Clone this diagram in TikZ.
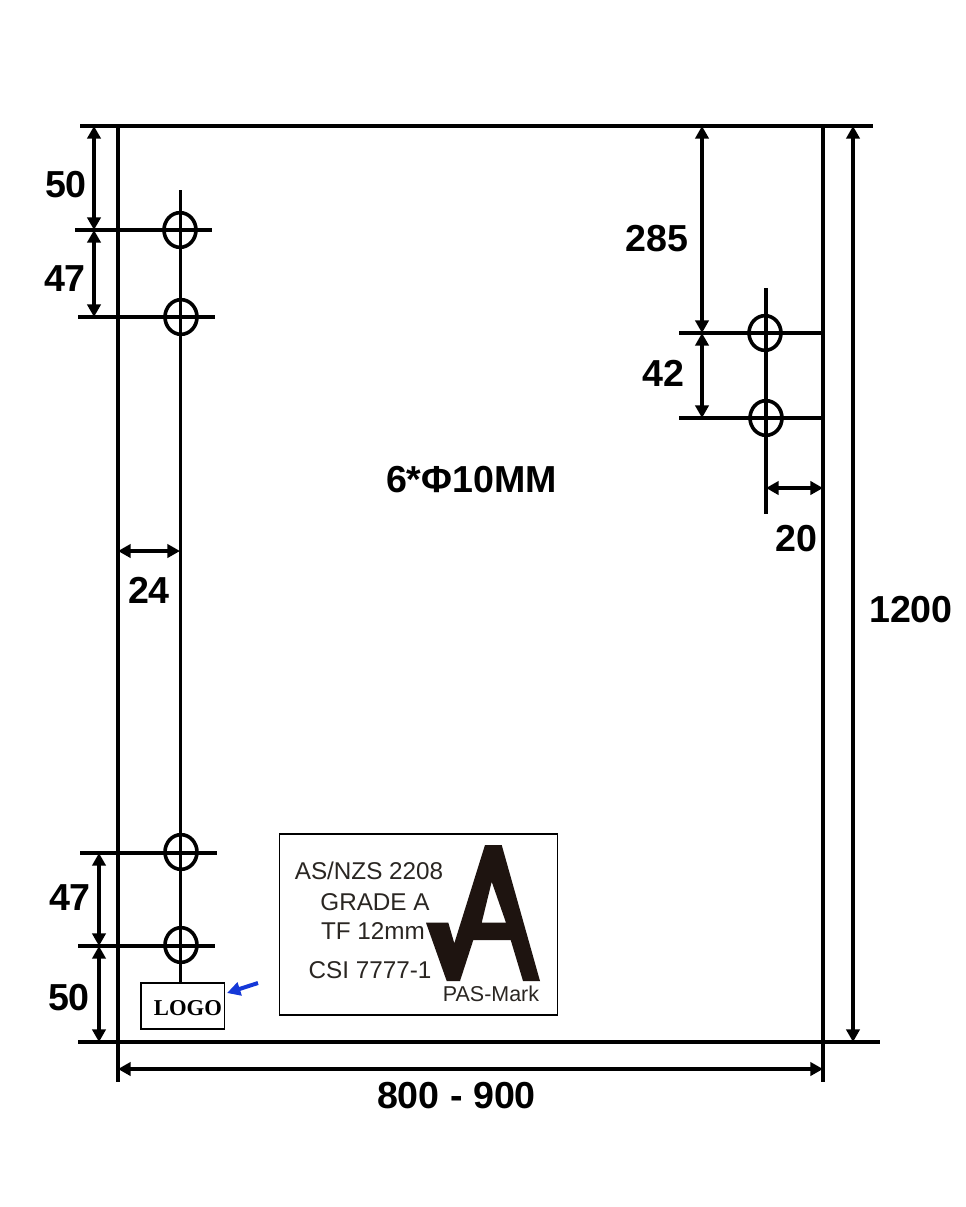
\documentclass[tikz,border=0pt]{standalone}
\usepackage{fontspec}
\setmainfont{Liberation Sans}
\newfontfamily\logofont{Liberation Serif}
\usetikzlibrary{arrows.meta,shapes.geometric}
\definecolor{lbl}{HTML}{2A2622}
\definecolor{markc}{HTML}{1E1410}
\definecolor{bluearrow}{HTML}{1438D8}
\tikzset{
  frameline/.style={draw=black,line width=2.5pt},
  extline/.style={draw=black,line width=2.3pt},
  dimline/.style={draw=black,line width=2.3pt,{Triangle[length=9.5pt,width=10pt]}-{Triangle[length=9.5pt,width=10pt]}},
  hole/.style={ellipse,draw=black,line width=2.7pt,minimum width=24pt,minimum height=26pt,inner sep=0pt,outer sep=0pt},
  dimtext/.style={font=\fontsize{28.2}{30}\selectfont\bfseries,inner sep=0pt,outer sep=0pt},
  marktext/.style={font=\fontsize{18.2}{20}\selectfont,text=lbl,inner sep=0pt,outer sep=0pt},
}
\begin{document}
\begin{tikzpicture}[x=0.75pt,y=-0.75pt]
\useasboundingbox[fill=white] (0,0) rectangle (966,1207);
% frame
\coordinate (tl) at (80,126); \coordinate (tr) at (873,126);
\coordinate (bl) at (78,1042); \coordinate (br) at (880,1042);
\coordinate (lt) at (118,126); \coordinate (lb) at (118,1082);
\coordinate (rt) at (823,126); \coordinate (rb) at (823,1082);
\draw[frameline] (tl) -- (tr);
\draw[frameline] (bl) -- (br);
\draw[frameline] (lt) -- (lb);
\draw[frameline] (rt) -- (rb);
% holes
\node[hole] (h1) at (180,230) {};
\node[hole] (h2) at (181,317) {};
\node[hole] (h3) at (181,852) {};
\node[hole] (h4) at (181,945) {};
\node[hole] (h5) at (765,333) {};
\node[hole] (h6) at (766,418) {};
% logo box
\node[draw=black,line width=1pt,minimum width=62.5pt,minimum height=34.5pt,inner sep=0pt,outer sep=0pt] (logo) at (182.7,1006) {};
\node[font=\logofont\fontsize{17}{18}\selectfont\bfseries,inner sep=0pt] (logotext) at (188,1008) {LOGO};
% centre lines
\coordinate (cl1) at (180.5,190);
\coordinate (cl2) at (180.5,983);
\coordinate (cr1) at (766,288);
\coordinate (cr2) at (766,514);
\draw[extline] (cl1) -- (cl2);
\draw[extline] (cr1) -- (cr2);
% extension lines
\coordinate (e1a) at (75,230); \coordinate (e1b) at (212,230);
\coordinate (e2a) at (78,317); \coordinate (e2b) at (215,317);
\coordinate (e3a) at (80,853); \coordinate (e3b) at (217,853);
\coordinate (e4a) at (78,946); \coordinate (e4b) at (215,946);
\coordinate (e5a) at (679,333); \coordinate (e5b) at (823,333);
\coordinate (e6a) at (679,418); \coordinate (e6b) at (823,418);
\draw[extline] (e1a) -- (e1b);
\draw[extline] (e2a) -- (e2b);
\draw[extline] (e3a) -- (e3b);
\draw[extline] (e4a) -- (e4b);
\draw[extline] (e5a) -- (e5b);
\draw[extline] (e6a) -- (e6b);
% dimensions
\coordinate (d1) at (94,126); \coordinate (d2) at (94,230); \coordinate (d3) at (94,317);
\draw[dimline] (d1) -- (d2);
\draw[dimline] (d2) -- (d3);
\coordinate (d4) at (99,853); \coordinate (d5) at (99,946); \coordinate (d6) at (99,1042);
\draw[dimline] (d4) -- (d5);
\draw[dimline] (d5) -- (d6);
\coordinate (d7) at (702,126); \coordinate (d8) at (702,333); \coordinate (d9) at (702,418);
\draw[dimline] (d7) -- (d8);
\draw[dimline] (d8) -- (d9);
\coordinate (d10) at (853,126); \coordinate (d11) at (853,1042);
\draw[dimline] (d10) -- (d11);
\coordinate (d12) at (118,1069); \coordinate (d13) at (823,1069);
\draw[dimline] (d12) -- (d13);
\coordinate (d14) at (118,551); \coordinate (d15) at (180,551);
\draw[dimline] (d14) -- (d15);
\coordinate (d16) at (766,488); \coordinate (d17) at (823,488);
\draw[dimline] (d16) -- (d17);
% dimension labels
\node[dimtext] (t50a) at (66,185) {50};
\node[dimtext] (t47a) at (65,279) {47};
\node[dimtext] (t47b) at (70,898) {47};
\node[dimtext] (t50b) at (69,998) {50};
\node[dimtext] (t24) at (149,590) {24};
\node[dimtext] (t285) at (657,239) {285};
\node[dimtext] (t42) at (663,373) {42};
\node[dimtext] (t20) at (796,539) {20};
\node[dimtext] (t1200) at (911,610) {1200};
\node[dimtext] (t800) at (456.5,1096) {800 - 900};
\node[dimtext] (tphi) at (471.5,480) {6*Φ10MM};
% blue arrow
\coordinate (ba) at (258,983); \coordinate (bb) at (227,993);
\draw[draw=bluearrow,line width=3pt,-{Triangle[length=10pt,width=10pt]}] (ba) -- (bb);
% PAS mark label
\node[draw=black,line width=0.9pt,minimum width=209pt,minimum height=135.7pt,inner sep=0pt,outer sep=0pt] (mark) at (418.5,924.5) {};
\fill[markc,even odd rule] (485,845) -- (501.7,845) -- (540,981) -- (523,981) -- (510.7,940) -- (473.3,940) -- (460,981) -- (446.7,981) -- (426,922.7) -- (448.3,922.7) -- (454.3,943.3) -- cycle
  (491.7,881.7) -- (481.7,922.7) -- (506,922.7) -- cycle;
\node[marktext] (m1) at (369,871) {AS/NZS 2208};
\node[marktext] (m2) at (375,902) {GRADE A};
\node[marktext] (m3) at (373,931) {TF 12mm};
\node[marktext] (m4) at (370,970) {CSI 7777-1};
\node[marktext,font=\fontsize{16.1}{18}\selectfont] (m5) at (491,994) {PAS-Mark};
\end{tikzpicture}
\end{document}
